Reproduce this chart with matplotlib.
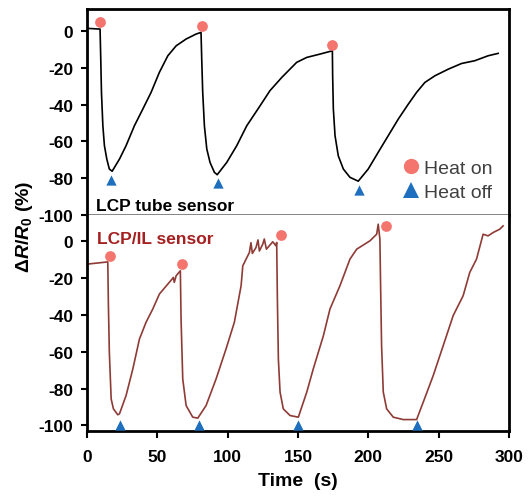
import matplotlib
matplotlib.use("Agg")
import matplotlib.pyplot as plt
from matplotlib.lines import Line2D

plt.rcParams['font.family'] = ['Liberation Sans', 'DejaVu Sans']
plt.rcParams['axes.unicode_minus'] = False
plt.rcParams['mathtext.fontset'] = 'custom'
plt.rcParams['mathtext.it'] = 'Liberation Sans:italic:bold'
plt.rcParams['mathtext.rm'] = 'Liberation Sans:bold'

# LCP tube sensor (top panel)
t_tube = [0, 9.2, 9.7, 10.2, 11.2, 12.3, 14, 15.8, 17.8,
          23, 27.7, 33.6, 39.6, 45.5, 51.4, 57.4, 63.3, 70.4, 77.5, 81.0,
          81.5, 82.2, 83.4, 85.1, 87.4, 90.5, 92.5,
          99.3, 106.4, 113.5, 123, 130, 138.4, 149, 156.2, 165.6, 174.4,
          174.6, 175.1, 176.3, 178.6, 182.2, 186.9, 192.8,
          199.9, 207, 214.1, 221.3, 228.4, 234.3, 240.2, 247.3, 256.8, 266.3,
          275.7, 285.2, 292.3]
r_tube = [1.5, 1.1, -15.2, -33.3, -51.5, -62.3, -69.6, -75, -76.2,
          -69.6, -62.3, -51.5, -42.4, -33.3, -22.4, -13.4, -8, -4.3, -1.6, -0.7,
          -15.2, -33.3, -51.5, -64.1, -71.4, -76.8, -78.1,
          -71.4, -62.3, -51.5, -40.6, -32.4, -25.2, -17, -14.3, -12.5, -10.7,
          -24.3, -42.4, -56.9, -67.8, -75, -79.5, -81.6,
          -75, -65.9, -56.9, -47.8, -39.7, -33.3, -27.9, -24.3, -20.7, -17.6,
          -16.1, -13.4, -12.1]
tube_on_t = [9.4, 82, 174.3]
tube_on_r = [5, 3, -7.6]
tube_off_t = [17, 93.3, 193.3]
tube_off_r = [-81, -82.6, -86.4]

# LCP/IL sensor (bottom panel)
t_il = [0, 14.7, 15.1, 15.8, 17.1, 18.7, 21.8, 23,
        27.7, 32.5, 37.2, 41.9, 46.7, 51.4, 57.4, 60.4, 61.3, 62, 63.3, 66.3,
        66.8, 68, 70.4, 75.1, 78.7,
        84.6, 91.7, 98.8, 104.7, 109.5, 110.7, 115.4, 116.5, 117.5, 120.1, 121.5,
        122.5, 124.9, 126, 127.5, 132, 134.3,
        134.8, 135.3, 136, 137.2, 139.5, 144.3, 150.2,
        156.2, 160.8, 168, 172.7, 179.8, 186.9, 191.7, 201.1, 205.9, 207, 208.2,
        208.7, 209.4, 210.6, 213, 217.7, 224.8, 234.3,
        239, 246.1, 253.2, 260.3, 267.4, 272.1, 276.9, 281.6, 285.1, 288.7,
        293.4, 295.8]
r_il = [-12.6, -11.4, -33.3, -60.3, -85.6, -91, -94.2, -93.7,
        -83.8, -69.4, -53.2, -44.1, -36.9, -28.8, -23.4, -20.7, -19.8, -22.5,
        -18.9, -16.2,
        -42.3, -74.8, -89.2, -95.5, -96,
        -89.2, -74.8, -58.5, -44.1, -24.3, -13.5, -6.3, -1, -6.8, -3.6, 0.5,
        -5.5, -1.8, 1, -4.5, -0.5, -2.7,
        -0.9, -31.5, -63.9, -81.9, -91, -94.6, -95.5,
        -81.9, -69.4, -51.4, -36.9, -24.3, -9.9, -4.5, 0, 3.6, 9, 0.9,
        -24.3, -56.8, -81.9, -91, -95.5, -96.8, -96.8,
        -87.4, -73, -56.8, -40.5, -29.7, -17.1, -9.9, 3.6, 2.7, 4.5,
        6.3, 8.1]
il_on_t = [16.3, 67.3, 137.7, 212.3]
il_on_r = [-8.4, -12.6, 3.1, 8.1]
il_off_t = [23.5, 79.6, 150.2, 234.7]
il_off_r = [-100, -100, -100, -100]

c_on = '#F4746E'
c_off = '#1F6FBF'
c_il = '#8E3B36'

fig = plt.figure(figsize=(5.28, 5.02), dpi=100)
ax1 = fig.add_axes([0.165, 0.5697, 0.799, 0.4103])
ax2 = fig.add_axes([0.165, 0.1394, 0.799, 0.4303])

ax1.plot(t_tube, r_tube, color='black', lw=1.2)
ax1.scatter(tube_on_t, tube_on_r, s=60, color=c_on, zorder=3, linewidths=0)
ax1.scatter(tube_off_t, tube_off_r, s=55, marker='^', color=c_off, zorder=3, linewidths=0)

ax2.plot(t_il, r_il, color=c_il, lw=1.2)
ax2.scatter(il_on_t, il_on_r, s=60, color=c_on, zorder=3, linewidths=0)
ax2.scatter(il_off_t, il_off_r, s=55, marker='^', color=c_off, zorder=3, linewidths=0, clip_on=False)

for ax in (ax1, ax2):
    ax.set_xlim(0, 300)
    ax.set_yticks([0, -20, -40, -60, -80, -100])
    for s in ('left', 'right', 'top', 'bottom'):
        ax.spines[s].set_linewidth(2)
    ax.tick_params(axis='y', direction='out', length=4, width=1.5, pad=6, labelsize=12.5)
    for lab in ax.get_yticklabels():
        lab.set_fontweight('bold')

ax1.set_ylim(-100, 12)
ax1.spines['bottom'].set_linewidth(1.2)
ax1.spines['bottom'].set_color('#707070')
ax1.tick_params(axis='x', bottom=False, labelbottom=False)
ax2.set_ylim(-103, 14)
ax2.spines['top'].set_visible(False)
ax2.set_xticks([0, 50, 100, 150, 200, 250, 300])
ax2.tick_params(axis='x', direction='out', length=5, width=1.5, pad=8, labelsize=12.5)
for lab in ax2.get_xticklabels():
    lab.set_fontweight('bold')
ax2.set_xlabel('Time  (s)', fontsize=14, fontweight='bold', labelpad=6)

ax1.text(6.4, -97.3, 'LCP tube sensor', fontsize=12.5, fontweight='bold', color='black', va='baseline')
ax2.text(6.8, -1.4, 'LCP/IL sensor', fontsize=12.5, fontweight='bold', color='#A52020', va='baseline')

fig.text(0.047, 0.548, r'$\mathit{\Delta R/R_0}$ (%)', rotation=90, fontsize=14,
         fontweight='bold', ha='center', va='center')

handles = [Line2D([], [], ls='none', marker='o', ms=11, color=c_on, mew=0),
           Line2D([], [], ls='none', marker='^', ms=11, color=c_off, mew=0)]
leg = ax1.legend(handles, ['Heat on', 'Heat off'], loc='lower right', frameon=False,
                 fontsize=14, handlelength=0.8, handletextpad=0.3, labelspacing=0.35,
                 borderaxespad=0.1, bbox_to_anchor=(0.985, 0.02))
for txt in leg.get_texts():
    txt.set_color('#404040')

fig.savefig('out.png', dpi=100)
